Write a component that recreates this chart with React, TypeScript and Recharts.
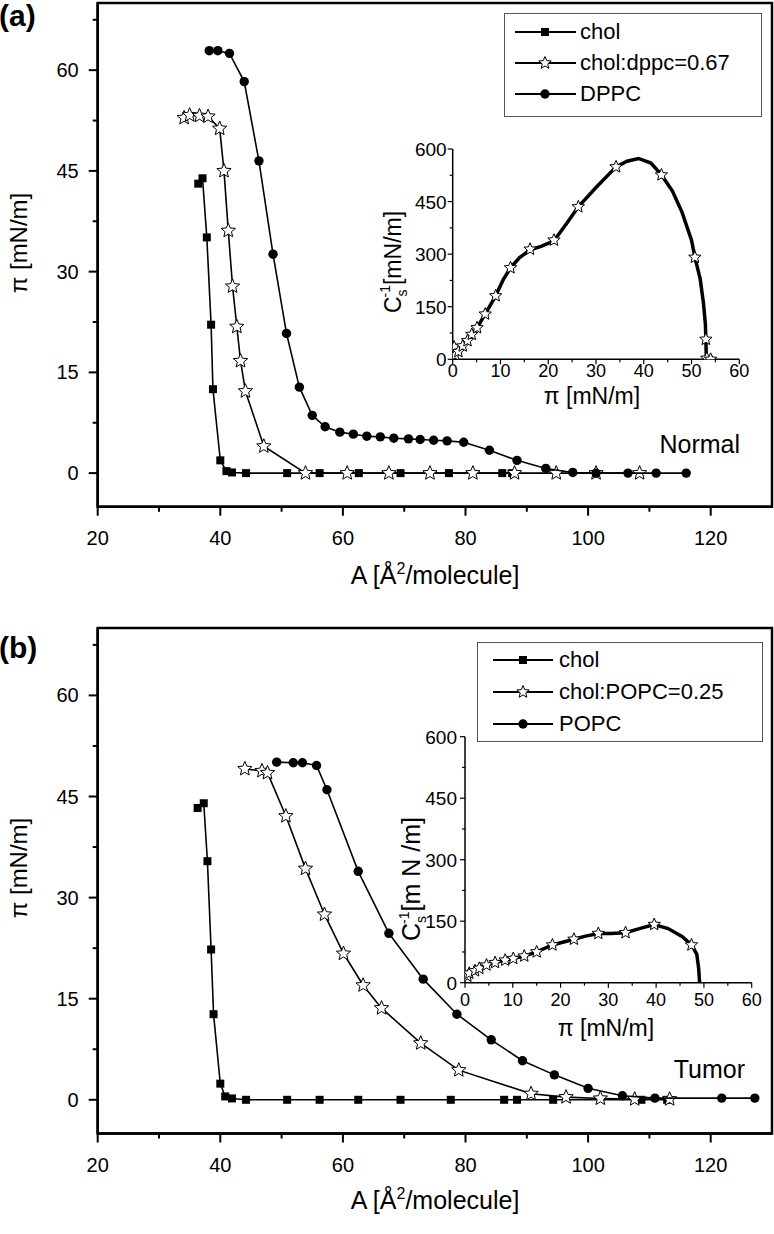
import React from "react";
import {
  ScatterChart,
  Scatter,
  XAxis,
  YAxis,
  Legend,
  ReferenceArea,
  Customized,
} from "recharts";

const FONT = "'Liberation Sans', Arial, Helvetica, sans-serif";

// (a) normal: chol / chol:dppc / DPPC isotherms, A [Å²/molecule] vs π [mN/m]
const cholAreaA = [36.4, 37.1, 37.8, 38.5, 38.8, 40.0, 41.0, 41.9, 44.2, 50.9, 56.2, 62.6, 69.4, 77.3, 86.0, 87.6];
const cholPiA = [43.1, 43.9, 35.1, 22.1, 12.5, 1.9, 0.3, 0.1, 0, 0, 0, 0, 0, 0, 0, 0];

const mixAreaA = [34.1, 35.0, 36.6, 38.0, 39.9, 40.6, 41.3, 42.0, 42.7, 43.3, 44.1, 47.1, 53.9, 60.7, 67.5, 74.2, 81.2, 88.0, 94.8, 101.3, 108.4];
const mixPiA = [52.9, 53.3, 53.2, 53.1, 51.3, 45.0, 36.1, 27.8, 21.8, 16.7, 12.2, 4.0, 0, 0, 0, 0, 0, 0, 0, 0, 0];

const lipidAreaA = [38.2, 39.6, 41.5, 43.9, 46.3, 48.6, 50.8, 52.9, 55.0, 57.1, 59.5, 61.7, 63.9, 66.1, 68.3, 70.7, 72.6, 74.8, 77.0, 79.7, 83.9, 88.4, 93.1, 97.5, 101.3, 106.5, 111.1, 116.0];
const lipidPiA = [62.9, 62.9, 62.5, 58.3, 46.5, 32.6, 20.8, 12.8, 8.6, 6.9, 6.1, 5.8, 5.5, 5.4, 5.2, 5.1, 5.0, 4.9, 4.8, 4.6, 3.4, 1.9, 0.7, 0.1, 0, 0, 0, 0];

// (b) tumor: chol / chol:POPC / POPC
const cholAreaB = [36.3, 37.3, 37.9, 38.5, 38.9, 40.0, 40.8, 41.9, 44.2, 50.9, 56.2, 62.5, 69.4, 77.6, 86.3, 88.4, 94.3, 108.7, 112.9];
const cholPiB = [43.3, 44.0, 35.4, 22.3, 12.7, 2.4, 0.5, 0.2, 0, 0, 0, 0, 0, 0, 0, 0, 0, 0, 0];

const mixAreaB = [44.0, 46.8, 47.7, 50.7, 53.9, 57.0, 60.1, 63.3, 66.3, 72.7, 78.9, 90.7, 96.4, 102.0, 107.6, 113.3];
const mixPiB = [49.1, 48.8, 48.5, 42.1, 34.3, 27.5, 21.7, 17.0, 13.6, 8.4, 4.4, 0.9, 0.4, 0.2, 0.1, 0.1];

const lipidAreaB = [49.2, 51.9, 53.4, 55.7, 57.4, 62.5, 67.5, 73.1, 78.6, 84.2, 89.3, 94.5, 100.0, 105.6, 110.9, 121.8, 127.2];
const lipidPiB = [50.1, 50.0, 50.0, 49.6, 46.0, 33.9, 24.7, 17.9, 12.7, 8.9, 5.8, 3.7, 1.7, 0.6, 0.25, 0.25, 0.25];

// insets: compression modulus Cs^-1 vs π for the mixed films
const insetCurvePiA = [0.3, 0.5, 1.2, 2.1, 3.1, 4.0, 5.1, 6.8, 9.0, 10.5, 12.1, 14.0, 16.2, 18.5, 21.2, 24.0, 26.3, 30.0, 34.2, 36.5, 38.9, 41.5, 43.7, 46.0, 48.0, 50.0, 50.7, 51.8, 52.5, 52.9, 53.0, 53.1];
const insetCurveCsA = [3, 12, 22, 38, 53, 71, 90, 129, 181, 225, 261, 290, 312, 322, 338, 390, 435, 490, 549, 565, 573, 560, 526, 480, 420, 340, 291, 230, 160, 100, 57, 0];
const insetStarPiA = [0.3, 0.5, 1.2, 2.1, 3.1, 4.0, 5.1, 6.8, 9.0, 12.1, 16.2, 21.2, 26.3, 34.2, 43.7, 50.7, 53.0, 53.2, 54.0];
const insetStarCsA = [35, 12, 22, 38, 53, 71, 90, 129, 181, 261, 314, 340, 435, 549, 526, 291, 57, 3, 0];

const insetCurvePiB = [0.2, 0.5, 0.9, 2.1, 3.0, 4.5, 6.3, 8.4, 10.1, 12.4, 15.0, 18.3, 22.8, 25.0, 27.9, 30.5, 33.6, 36.5, 39.6, 42.5, 45.5, 47.4, 48.5, 48.9, 49.1];
const insetCurveCsB = [8, 16, 23, 29, 35, 43, 49, 55, 59, 65, 75, 92, 106, 113, 120, 120, 122, 132, 142, 132, 112, 92, 70, 35, 0];
const insetStarPiB = [0.5, 0.9, 2.1, 3.0, 4.5, 6.3, 8.4, 10.1, 12.4, 15.0, 18.3, 22.8, 27.9, 33.6, 39.6, 47.4];
const insetStarCsB = [16, 23, 29, 35, 43, 49, 55, 59, 65, 75, 92, 106, 120, 122, 142, 92];

const namesA = ["chol", "chol:dppc=0.67", "DPPC"];
const namesB = ["chol", "chol:POPC=0.25", "POPC"];

const mainXTicks = [20, 30, 40, 50, 60, 70, 80, 90, 100, 110, 120];
const mainYTicks = [0, 7.5, 15, 22.5, 30, 37.5, 45, 52.5, 60, 67.5];
const insetXTicks = [0, 5, 10, 15, 20, 25, 30, 35, 40, 45, 50, 55, 60];
const insetYTicks = [0, 75, 150, 225, 300, 375, 450, 525, 600];

const zip = (xs: number[], ys: number[]) => xs.map((x, i) => ({ x, y: ys[i] }));

const starPath = (cx: number, cy: number, R: number, r: number) => {
  let d = "";
  for (let i = 0; i < 10; i++) {
    const rad = i % 2 === 0 ? R : r;
    const a = -Math.PI / 2 + (i * Math.PI) / 5;
    d += (i === 0 ? "M" : "L") + (cx + rad * Math.cos(a)).toFixed(2) + "," + (cy + rad * Math.sin(a)).toFixed(2);
  }
  return d + "Z";
};

const square = (cx: number, cy: number) => <rect x={cx - 4} y={cy - 4} width={8} height={8} fill="#000" />;
const dot = (cx: number, cy: number) => <circle cx={cx} cy={cy} r={4.7} fill="#000" />;
const star = (cx: number, cy: number, R = 7.5) => (
  <path d={starPath(cx, cy, R, R * 0.45)} fill="#fff" stroke="#000" strokeWidth={1} />
);
const markers = [square, dot, star];
const markerOrder = [0, 2, 1]; // chol = square, mix = star, lipid = circle

const MainXTick = (p: any) => {
  const v = p.payload.value;
  const major = v % 20 === 0;
  return (
    <g>
      <line x1={p.x} x2={p.x} y1={p.y} y2={p.y + (major ? 9 : 5)} stroke="#000" strokeWidth={2} />
      {major && (
        <text x={p.x} y={p.y + 38} textAnchor="middle" fontSize={20} fontFamily={FONT} fill="#000">
          {v}
        </text>
      )}
    </g>
  );
};

const MainYTick = (p: any) => {
  const v = p.payload.value;
  const major = v % 15 === 0;
  return (
    <g>
      <line x1={p.x} x2={p.x - (major ? 9 : 5)} y1={p.y} y2={p.y} stroke="#000" strokeWidth={2} />
      {major && (
        <text x={p.x - 19} y={p.y + 7} textAnchor="end" fontSize={20} fontFamily={FONT} fill="#000">
          {v}
        </text>
      )}
    </g>
  );
};

const makeInsetXTick = (baseline: number) => (p: any) => {
  const v = p.payload.value;
  const major = v % 10 === 0;
  return (
    <g>
      <line x1={p.x} x2={p.x} y1={p.y} y2={p.y + (major ? 5 : 3)} stroke="#000" strokeWidth={1.2} />
      {major && (
        <text x={p.x} y={p.y + baseline} textAnchor="middle" fontSize={18} fontFamily={FONT} fill="#000">
          {v}
        </text>
      )}
    </g>
  );
};

const makeInsetYTick = (gap: number) => (p: any) => {
  const v = p.payload.value;
  const major = v % 150 === 0;
  return (
    <g>
      <line x1={p.x} x2={p.x - (major ? 5 : 3)} y1={p.y} y2={p.y} stroke="#000" strokeWidth={1.2} />
      {major && (
        <text x={p.x - gap} y={p.y + 7} textAnchor="end" fontSize={19} fontFamily={FONT} fill="#000">
          {v}
        </text>
      )}
    </g>
  );
};

type LegendCfg = {
  left: number;
  top: number;
  width: number;
  height: number;
  lx1: number;
  lx2: number;
  mx: number;
  tx: number;
  rows: number[];
};

const legendContent = (names: string[], c: LegendCfg) => () => (
  <svg width={c.width} height={c.height} style={{ display: "block" }}>
    <rect x={0.5} y={0.5} width={c.width - 1} height={c.height - 1} fill="#fff" stroke="#555" strokeWidth={1} />
    {names.map((n, i) => {
      const cy = c.rows[i] - 7;
      const m = markers[markerOrder[i]];
      return (
        <g key={n}>
          <line x1={c.lx1} x2={c.lx2} y1={cy} y2={cy} stroke="#000" strokeWidth={2} />
          {m === star ? star(c.mx, cy, 6.5) : m(c.mx, cy)}
          <text x={c.tx} y={c.rows[i]} fontSize={22} fontFamily={FONT} fill="#000">
            {n}
          </text>
        </g>
      );
    })}
  </svg>
);

type PanelProps = {
  top: number;
  height: number;
  xAxisHeight: number;
  letter: string;
  letterY: number;
  yTitleY: number;
  xTitleY: number;
  note: string;
  noteX: number;
  noteY: number;
  names: string[];
  series: { x: number; y: number }[][];
  legend: LegendCfg;
};

const MainPanel = (p: PanelProps) => (
  <div style={{ position: "absolute", left: 0, top: p.top }}>
    <ScatterChart
      width={774}
      height={p.height}
      margin={{ top: 3, right: 2, left: 0, bottom: 0 }}
      style={{ fontFamily: FONT }}
    >
      <XAxis
        type="number"
        dataKey="x"
        domain={[20, 130]}
        ticks={mainXTicks}
        interval={0}
        allowDataOverflow
        height={p.xAxisHeight}
        tickSize={0}
        tickMargin={0}
        tickLine={false}
        tick={MainXTick}
        axisLine={{ stroke: "#000", strokeWidth: 2.5 }}
      />
      <YAxis
        type="number"
        dataKey="y"
        domain={[-5, 70]}
        ticks={mainYTicks}
        interval={0}
        allowDataOverflow
        width={97.7}
        tickSize={0}
        tickMargin={0}
        tickLine={false}
        tick={MainYTick}
        axisLine={{ stroke: "#000", strokeWidth: 2.5 }}
      />
      <ReferenceArea
        x1={20}
        x2={130}
        y1={-5}
        y2={70}
        fill="none"
        stroke="#000"
        strokeWidth={2.5}
        ifOverflow="visible"
      />
      {p.series.map((d, i) => {
        const m = markers[markerOrder[i]];
        return (
          <Scatter
            key={p.names[i]}
            name={p.names[i]}
            data={d}
            line={{ stroke: "#000", strokeWidth: 1.6 }}
            lineType="joint"
            shape={(s: any) => m(s.cx, s.cy)}
            isAnimationActive={false}
          />
        );
      })}
      <Legend
        layout="vertical"
        align="center"
        verticalAlign="middle"
        wrapperStyle={{ left: p.legend.left, top: p.legend.top, width: p.legend.width, height: p.legend.height }}
        content={legendContent(p.names, p.legend)}
      />
      <Customized
        component={() => (
          <g fontFamily={FONT} fill="#000">
            <text x={-1} y={p.letterY} fontSize={30} fontWeight="bold">
              {p.letter}
            </text>
            <text x={27} y={p.yTitleY} fontSize={24} textAnchor="middle" transform={`rotate(-90 27 ${p.yTitleY})`}>
              π [mN/m]
            </text>
            <text x={435} y={p.xTitleY} fontSize={25} textAnchor="middle">
              A [Å
              <tspan fontSize={16} dy={-10}>
                2
              </tspan>
              <tspan dy={10}>/molecule]</tspan>
            </text>
            <text x={p.noteX} y={p.noteY} fontSize={25} textAnchor="end">
              {p.note}
            </text>
          </g>
        )}
      />
    </ScatterChart>
  </div>
);

type InsetProps = {
  left: number;
  top: number;
  width: number;
  height: number;
  yAxisWidth: number;
  marginTop: number;
  marginRight: number;
  xAxisHeight: number;
  xTickBaseline: number;
  yTickGap: number;
  curve: { x: number; y: number }[];
  stars: { x: number; y: number }[];
  yTitleX: number;
  yTitleY: number;
  yTitleSize: number;
  xTitleX: number;
  xTitleY: number;
  unit: string;
};

const Inset = (p: InsetProps) => (
  <div style={{ position: "absolute", left: p.left, top: p.top }}>
    <ScatterChart
      width={p.width}
      height={p.height}
      margin={{ top: p.marginTop, right: p.marginRight, left: 0, bottom: 0 }}
      style={{ fontFamily: FONT }}
    >
      <XAxis
        type="number"
        dataKey="x"
        domain={[0, 60]}
        ticks={insetXTicks}
        interval={0}
        allowDataOverflow
        height={p.xAxisHeight}
        tickSize={0}
        tickMargin={0}
        tickLine={false}
        tick={makeInsetXTick(p.xTickBaseline)}
        axisLine={{ stroke: "#000", strokeWidth: 1.5 }}
      />
      <YAxis
        type="number"
        dataKey="y"
        domain={[0, 600]}
        ticks={insetYTicks}
        interval={0}
        allowDataOverflow
        width={p.yAxisWidth}
        tickSize={0}
        tickMargin={0}
        tickLine={false}
        tick={makeInsetYTick(p.yTickGap)}
        axisLine={{ stroke: "#000", strokeWidth: 1.5 }}
      />
      <Scatter
        data={p.curve}
        line={{ stroke: "#000", strokeWidth: 3.5 }}
        lineType="joint"
        shape={() => <g />}
        isAnimationActive={false}
      />
      <Scatter
        data={p.stars}
        shape={(s: any) => star(s.cx, s.cy, 6.5)}
        isAnimationActive={false}
      />
      <Customized
        component={() => (
          <g fontFamily={FONT} fill="#000">
            <text
              x={p.yTitleX}
              y={p.yTitleY}
              fontSize={p.yTitleSize}
              textAnchor="middle"
              transform={`rotate(-90 ${p.yTitleX} ${p.yTitleY})`}
            >
              C
              <tspan fontSize={14} dy={6}>
                s
              </tspan>
              <tspan fontSize={14} dx={-8} dy={-17}>
                -1
              </tspan>
              <tspan dy={11}>{p.unit}</tspan>
            </text>
            <text x={p.xTitleX} y={p.xTitleY} fontSize={23} textAnchor="middle">
              π [mN/m]
            </text>
          </g>
        )}
      />
    </ScatterChart>
  </div>
);

const App = () => (
  <div style={{ position: "absolute", left: 0, top: 0, width: 774, height: 1234, background: "#fff" }}>
    <MainPanel
      top={0}
      height={600}
      xAxisHeight={93.3}
      letter="(a)"
      letterY={26}
      yTitleY={243}
      xTitleY={584}
      note="Normal"
      noteX={740}
      noteY={453}
      names={namesA}
      series={[zip(cholAreaA, cholPiA), zip(mixAreaA, mixPiA), zip(lipidAreaA, lipidPiA)]}
      legend={{ left: 504, top: 13, width: 258, height: 104, lx1: 11, lx2: 72, mx: 41, tx: 76, rows: [26, 57, 88] }}
    />
    <MainPanel
      top={625}
      height={609}
      xAxisHeight={100.5}
      letter="(b)"
      letterY={33}
      yTitleY={243}
      xTitleY={584}
      note="Tumor"
      noteX={745}
      noteY={453}
      names={namesB}
      series={[zip(cholAreaB, cholPiB), zip(mixAreaB, mixPiB), zip(lipidAreaB, lipidPiB)]}
      legend={{ left: 477, top: 17, width: 286, height: 100, lx1: 16, lx2: 76, mx: 46, tx: 82, rows: [25, 57, 89] }}
    />
    <Inset
      left={360}
      top={120}
      width={400}
      height={290}
      yAxisWidth={92.7}
      marginTop={29}
      marginRight={20.7}
      xAxisHeight={50.7}
      xTickBaseline={18}
      yTickGap={6}
      curve={zip(insetCurvePiA, insetCurveCsA)}
      stars={zip(insetStarPiA, insetStarCsA)}
      yTitleX={41}
      yTitleY={142}
      yTitleSize={23}
      xTitleX={232}
      xTitleY={284}
      unit="[mN/m]"
    />
    <Inset
      left={370}
      top={700}
      width={404}
      height={350}
      yAxisWidth={95}
      marginTop={36.7}
      marginRight={22.3}
      xAxisHeight={67.3}
      xTickBaseline={23}
      yTickGap={8}
      curve={zip(insetCurvePiB, insetCurveCsB)}
      stars={zip(insetStarPiB, insetStarCsB)}
      yTitleX={50}
      yTitleY={179}
      yTitleSize={25}
      xTitleX={236}
      xTitleY={336}
      unit="[m N /m]"
    />
  </div>
);

export default App;
